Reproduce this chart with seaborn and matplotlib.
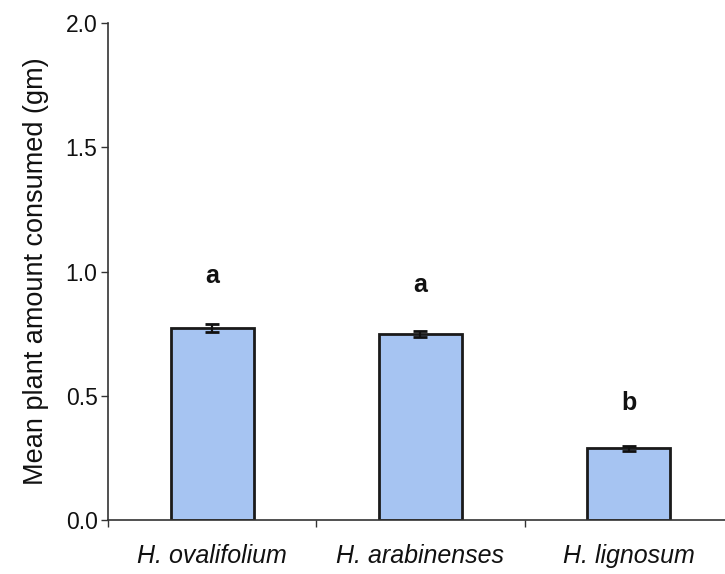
import matplotlib
matplotlib.use("Agg")
import matplotlib.pyplot as plt
import seaborn as sns
import pandas as pd
import numpy as np

species = ["H. ovalifolium", "H. arabinenses", "H. lignosum"]
means = [0.773, 0.748, 0.288]
errors = [0.016, 0.012, 0.009]
letters = ["a", "a", "b"]
letter_y = [0.98, 0.945, 0.47]

sns.set_style("white")
plt.rcParams['font.family'] = ['Liberation Sans', 'DejaVu Sans']

df = pd.DataFrame({"species": species, "mean": means})

fig = plt.figure(figsize=(7.25, 5.74), dpi=100)
ax = fig.add_axes([0.149, 0.094, 0.862, 0.866])

sns.barplot(data=df, x="species", y="mean", color="#a6c4f2", width=0.4,
            edgecolor="#1a1a1a", linewidth=2, saturation=1, ax=ax, errorbar=None)
for p in ax.patches:
    p.set_facecolor("#a6c4f2")

ax.errorbar(np.arange(len(species)), means, yerr=errors, fmt="none",
            ecolor="#111111", elinewidth=1.6, capsize=4.8, capthick=2, zorder=5)

for i, (l, y) in enumerate(zip(letters, letter_y)):
    ax.text(i, y, l, ha="center", va="center", fontsize=18, fontweight="bold", color="#111111")

ax.set_ylim(0, 2.0)
ax.set_xlim(-0.5, 2.5)
ax.set_yticks([0, 0.5, 1.0, 1.5, 2.0])
ax.set_yticklabels(["0.0", "0.5", "1.0", "1.5", "2.0"], fontsize=16.5)
ax.set_xticks(range(len(species)))
ax.set_xticklabels(species, fontsize=18, style="italic")
ax.set_xticks([-0.5, 0.5, 1.5], minor=True)
ax.tick_params(axis="x", which="major", length=0, pad=17, colors="#111111")
ax.tick_params(axis="x", which="minor", length=5, width=1, direction="out", bottom=True, color="#333333")
ax.tick_params(axis="y", length=5, width=1, direction="out", left=True, pad=2.5, colors="#111111", color="#333333")
ax.set_xlabel("")
ax.set_ylabel("Mean plant amount consumed (gm)", fontsize=19.5, labelpad=12, color="#111111")

for s in ["top", "right"]:
    ax.spines[s].set_visible(False)
for s in ["left", "bottom"]:
    ax.spines[s].set_color("#333333")
    ax.spines[s].set_linewidth(1.2)

fig.savefig("out.png", dpi=100)
